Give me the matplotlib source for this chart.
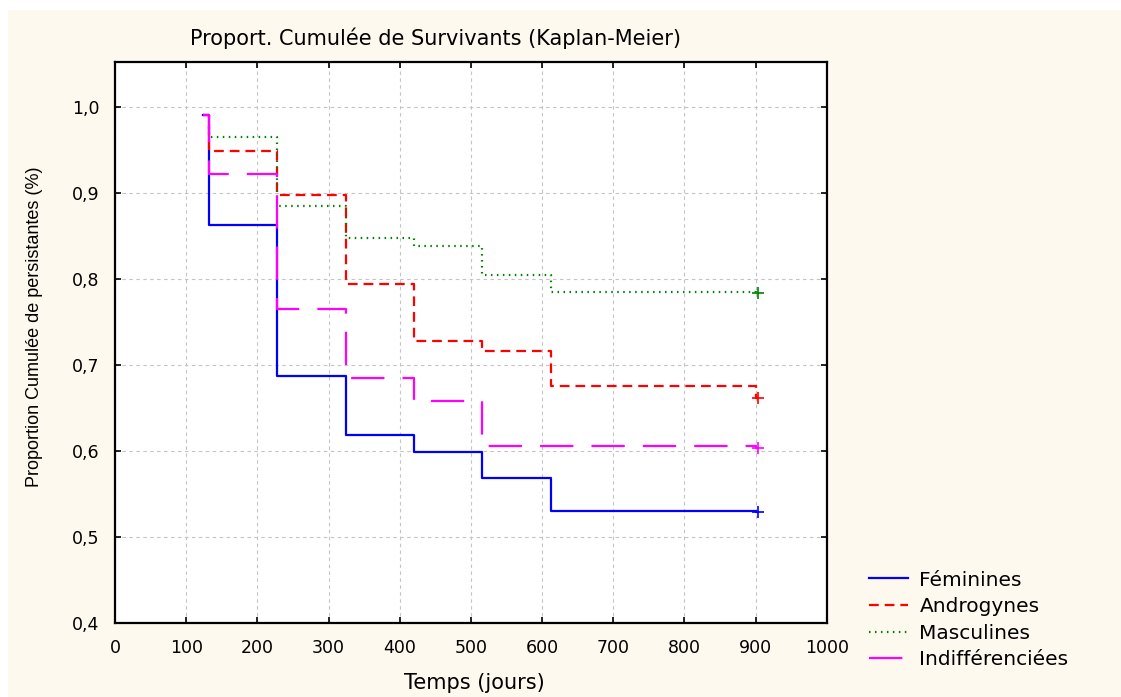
import matplotlib
matplotlib.use("Agg")
import matplotlib.pyplot as plt
from matplotlib.patches import Rectangle

plt.rcParams['font.family'] = ['DejaVu Sans']
plt.rcParams['lines.scale_dashes'] = False

# ---- data ----
start_time = 123
end_time = 903
event_times = [132, 227, 324, 420, 516, 613]

feminines = [0.990, 0.863, 0.687, 0.6185, 0.5995, 0.569, 0.530]
androgynes = [0.990, 0.949, 0.898, 0.794, 0.7277, 0.7166, 0.676]
masculines = [0.990, 0.9645, 0.885, 0.8475, 0.838, 0.804, 0.785]
indifferenciees = [0.990, 0.9224, 0.765, 0.6853, 0.658, 0.6057, 0.6057]

# final censored values (small drop just before the end mark)
censor_drop_time = 900
final_values = {'Féminines': 0.529, 'Androgynes': 0.662,
                'Masculines': 0.784, 'Indifférenciées': 0.604}

labels = ['Féminines', 'Androgynes', 'Masculines', 'Indifférenciées']
series = [feminines, androgynes, masculines, indifferenciees]
colors = ['#0000ff', '#ff0000', '#008000', '#ff00ff']
linestyles = ['-', (0, (7.0, 4.3)), (0, (1.1, 3.2)), (0, (24.0, 13.0))]
widths = [1.6, 1.6, 1.6, 1.6]

xticks = [0, 100, 200, 300, 400, 500, 600, 700, 800, 900, 1000]
yticks = [0.4, 0.5, 0.6, 0.7, 0.8, 0.9, 1.0]
ytick_labels = ['0,4', '0,5', '0,6', '0,7', '0,8', '0,9', '1,0']

title = 'Proport. Cumulée de Survivants (Kaplan-Meier)'
xlabel = 'Temps (jours)'
ylabel = 'Proportion Cumulée de persistantes (%)'

# ---- figure ----
W, H = 1121, 697
fig = plt.figure(figsize=(W / 100, H / 100), dpi=100, facecolor='white')
fig.patches.append(Rectangle((8 / W, 0), 1 - 8 / W, (H - 10) / H,
                             transform=fig.transFigure, facecolor='#fef9ee',
                             edgecolor='none', zorder=-10))

ax = fig.add_axes([115 / W, (H - 623.3) / H, (826.7 - 115) / W, (623.3 - 61.7) / H])
ax.set_facecolor('white')

for lab, vals, c, ls, lw in zip(labels, series, colors, linestyles, widths):
    t = [start_time] + event_times
    v = list(vals)
    fv = final_values[lab]
    t2 = t + [censor_drop_time, end_time]
    v2 = v + [fv, fv]
    ax.step(t2, v2, where='post', color=c, lw=lw, linestyle=ls, label=lab)
    ax.plot([end_time], [fv], linestyle='none', marker='+', ms=9,
            mew=1.2, color=c)

ax.set_xlim(0, 1000)
ax.set_ylim(0.4, 1.0523)
ax.set_xticks(xticks)
ax.set_xticklabels([str(x) for x in xticks])
ax.set_yticks(yticks)
ax.set_yticklabels(ytick_labels)
ax.tick_params(direction='in', length=4, width=1.2, top=True, right=True,
               labelsize=12.5, colors='black')
ax.tick_params(axis='x', pad=11)
ax.tick_params(axis='y', pad=11)
ax.grid(True, color='#c4c4c4', linestyle=(0, (2.5, 2.5)), linewidth=0.8)
ax.set_axisbelow(True)
for s in ax.spines.values():
    s.set_linewidth(1.6)
    s.set_color('black')

fig.text(435 / W, 1 - 38 / H, title, ha='center', va='center', fontsize=15)
fig.text(474 / W, 1 - 683 / H, xlabel, ha='center', va='center', fontsize=15)
fig.text(35 / W, 1 - 327 / H, ylabel, ha='center', va='center', rotation=90,
         fontsize=13, family=['Liberation Sans', 'DejaVu Sans'])

leg = ax.legend(loc='center left', bbox_to_anchor=(869 / W, 1 - 620 / H),
                bbox_transform=fig.transFigure, frameon=False, fontsize=14.5,
                handlelength=1.95, handletextpad=0.55, labelspacing=0.38,
                borderaxespad=0, borderpad=0)

fig.savefig('out.png', dpi=100, facecolor=fig.get_facecolor())
